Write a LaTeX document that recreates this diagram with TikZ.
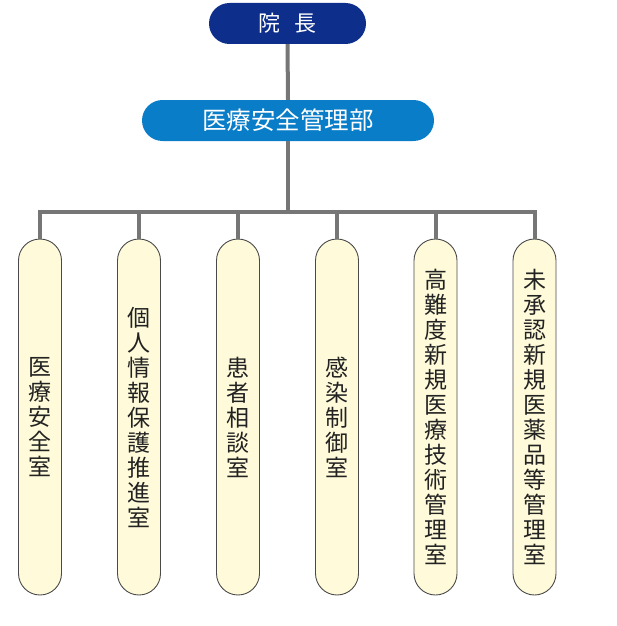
\documentclass[tikz,border=0pt]{standalone}
\usepackage{fontspec}
\newfontfamily\cjk{Noto Sans CJK JP}
\definecolor{topblue}{HTML}{0D2E8B}
\definecolor{midblue}{HTML}{0A7DC8}
\definecolor{pillfill}{HTML}{FFFBDA}
\definecolor{pillline}{HTML}{4A4A4A}
\definecolor{conncol}{HTML}{767676}
\definecolor{pilltext}{HTML}{222222}
\begin{document}
\begin{tikzpicture}[x=1pt,y=-1pt,
  headbox/.style={rectangle, rounded corners=20.5pt, minimum height=41pt, inner sep=0pt, text=white},
  pill/.style={rectangle, rounded corners=21.5pt, minimum width=43pt, minimum height=356pt, inner sep=0pt, draw=pillline, line width=0.9pt, fill=pillfill, text=pilltext, align=center, font=\cjk\fontsize{23}{25}\selectfont},
  conn/.style={draw=conncol, line width=4pt}]
\useasboundingbox (0,0) rectangle (616,626);
\node[headbox, fill=topblue, minimum width=157pt, font=\cjk\fontsize{22}{24}\selectfont] (top) at (287.5,23.5) {院\hspace{15pt}長};
\node[headbox, fill=midblue, minimum width=292pt, font=\cjk\fontsize{24.5}{26}\selectfont] (mgmt) at (288,120.5) {医療安全管理部};
\node[pill] (p1) at (40,417) {医\\療\\安\\全\\室};
\node[pill] (p2) at (139,417) {個\\人\\情\\報\\保\\護\\推\\進\\室};
\node[pill] (p3) at (238,417) {患\\者\\相\\談\\室};
\node[pill] (p4) at (337,417) {感\\染\\制\\御\\室};
\node[pill] (p5) at (435.5,417) {高\\難\\度\\新\\規\\医\\療\\技\\術\\管\\理\\室};
\node[pill] (p6) at (534.5,417) {未\\承\\認\\新\\規\\医\\薬\\品\\等\\管\\理\\室};
\coordinate (j) at (288,212);
\draw[conn] (top.south) -- (mgmt.north);
\draw[conn] (mgmt.south) -- (j);
\draw[conn] (p1.north) |- (j) -| (p6.north);
\draw[conn] (p2.north) -- (p2.north |- j);
\draw[conn] (p3.north) -- (p3.north |- j);
\draw[conn] (p4.north) -- (p4.north |- j);
\draw[conn] (p5.north) -- (p5.north |- j);
\end{tikzpicture}
\end{document}
